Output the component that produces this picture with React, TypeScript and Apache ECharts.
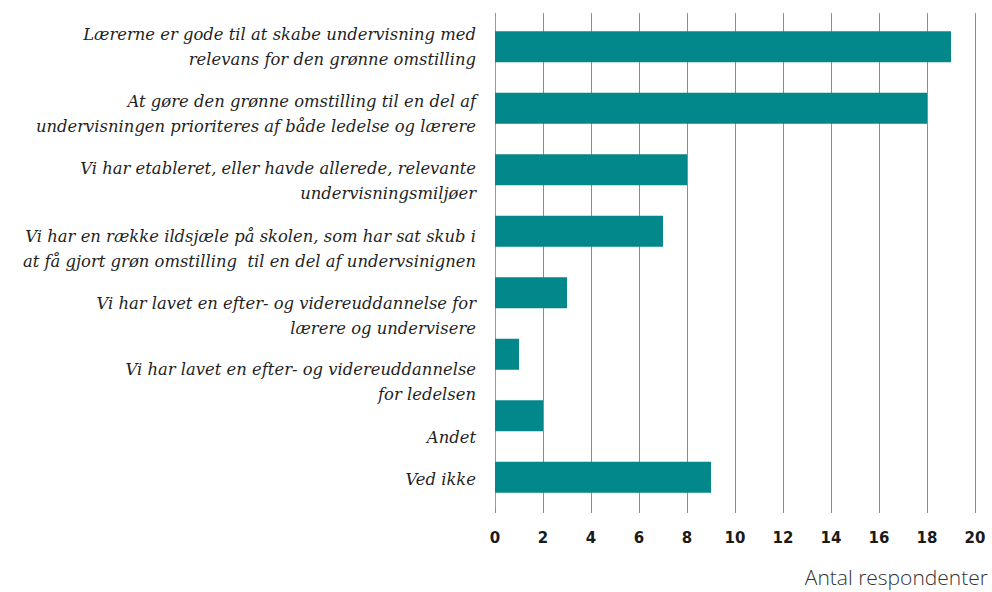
import React, { useEffect, useRef } from "react";
import * as echarts from "echarts";

const categories = [
  "Lærerne er gode til at skabe undervisning med\nrelevans for den grønne omstilling",
  "At gøre den grønne omstilling til en del af\nundervisningen prioriteres af både ledelse og lærere",
  "Vi har etableret, eller havde allerede, relevante\nundervisningsmiljøer",
  "Vi har en række ildsjæle på skolen, som har sat skub i\nat få gjort grøn omstilling  til en del af undervsinignen",
  "Vi har lavet en efter- og videreuddannelse for\nlærere og undervisere",
  "Vi har lavet en efter- og videreuddannelse\nfor ledelsen",
  "Andet",
  "Ved ikke",
];
const values = [19, 18, 8, 7, 3, 1, 2, 9];
const xAxisTitle = "Antal respondenter";

// layout only: vertical shift (px) of each category label relative to its bar
const labelShift = [0, 6, 11.5, 17.5, 23, 28, 22, 2.5];

export default function App() {
  const ref = useRef<HTMLDivElement>(null);
  useEffect(() => {
    if (!ref.current) return;
    const chart = echarts.init(ref.current, null, { renderer: "svg" });
    const gridColor = "#8c8c8c";
    const rich: Record<string, any> = {};
    labelShift.forEach((s, i) => {
      rich["p" + i] = { lineHeight: Math.max(1, Math.abs(s) * 2), fontSize: 1 };
    });
    chart.setOption({
      animation: false,
      grid: { left: 495, right: 17, top: 16, height: 492 },
      xAxis: [
        {
          type: "value",
          min: 0,
          max: 20,
          interval: 2,
          position: "bottom",
          axisLine: { show: false },
          axisTick: { show: true, length: 5, lineStyle: { color: gridColor } },
          splitLine: { show: true, lineStyle: { color: gridColor, width: 1 } },
          axisLabel: {
            margin: 22,
            color: "#1a1a1a",
            fontFamily: "DejaVu Sans",
            fontWeight: "bold",
            fontSize: 15,
          },
        },
        {
          type: "value",
          min: 0,
          max: 20,
          interval: 2,
          position: "top",
          axisLine: { show: false },
          axisTick: { show: true, length: 3, lineStyle: { color: gridColor } },
          splitLine: { show: false },
          axisLabel: { show: false },
        },
      ],
      yAxis: {
        type: "category",
        inverse: true,
        data: categories,
        axisLine: { show: true, lineStyle: { color: "#999999" } },
        axisTick: { show: false },
        axisLabel: {
          margin: 19,
          color: "#1f1f1f",
          fontFamily: "DejaVu Serif",
          fontStyle: "italic",
          fontSize: 16.4,
          lineHeight: 25,
          align: "right",
          formatter: (value: string, index: number) => {
            const s = labelShift[index] || 0;
            if (s > 0) return "{p" + index + "|}\n" + value;
            if (s < 0) return value + "\n{p" + index + "|}";
            return value;
          },
          rich,
        },
      },
      graphic: [
        {
          type: "text",
          right: 4,
          top: 566,
          style: {
            text: xAxisTitle,
            fontFamily: "Open Sans",
            fontWeight: 300,
            fontSize: 21,
            fill: "#333333",
          },
        },
      ],
      series: [
        {
          type: "bar",
          data: values,
          xAxisIndex: 0,
          barWidth: 31,
          itemStyle: { color: "#02878b" },
        },
      ],
    });
    return () => chart.dispose();
  }, []);
  return <div ref={ref} style={{ width: 992, height: 592, position: "absolute", left: 0, top: 0 }} />;
}
